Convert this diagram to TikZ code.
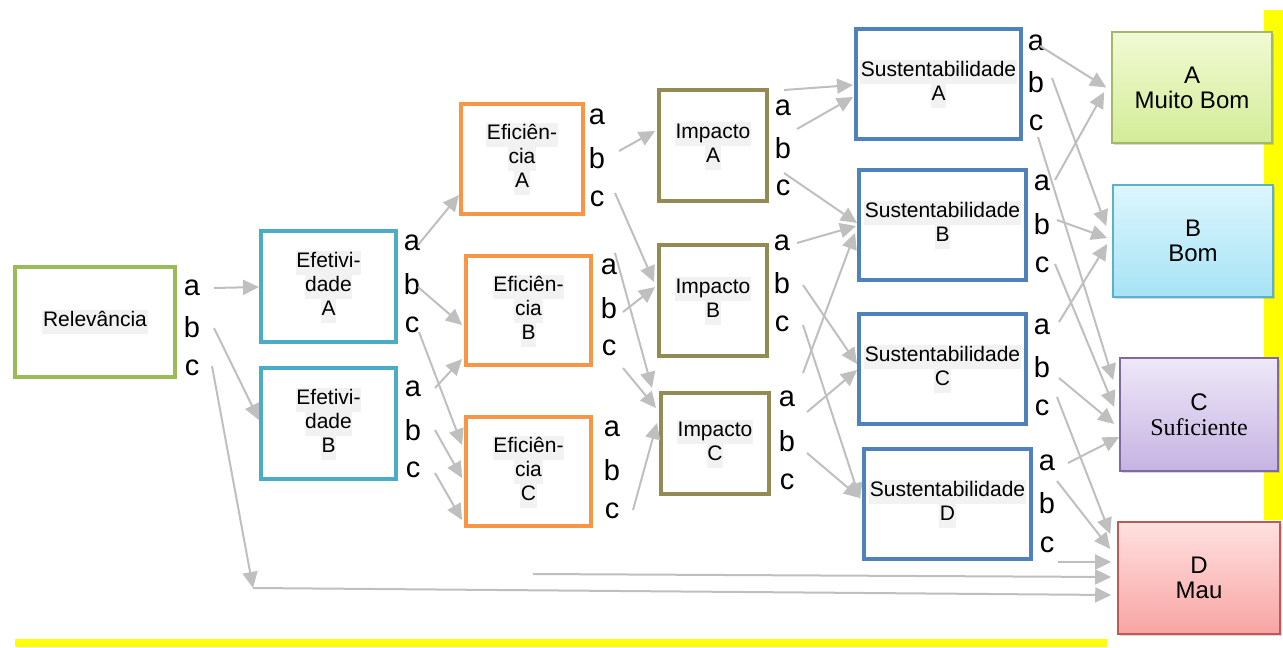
\documentclass[tikz,border=0pt]{standalone}
\usepackage{fontspec}
\setmainfont{Liberation Sans}
\newfontfamily\timesf{Liberation Serif}
\usetikzlibrary{arrows.meta,calc,shadows}
\definecolor{yel}{HTML}{FFFF00}
\definecolor{cgray}{HTML}{BFBFBF}
\definecolor{hlg}{HTML}{F2F2F2}
\definecolor{cgreen}{HTML}{9BBB59}
\definecolor{cteal}{HTML}{4BACC6}
\definecolor{corange}{HTML}{F79646}
\definecolor{colive}{HTML}{948A54}
\definecolor{cblue}{HTML}{4F81BD}
\definecolor{oAd}{HTML}{A5B86A}
\definecolor{oAt}{HTML}{F1FAD4}
\definecolor{oAb}{HTML}{D3EC98}
\definecolor{oBd}{HTML}{5BB0CC}
\definecolor{oBt}{HTML}{DDF6FD}
\definecolor{oBb}{HTML}{A6E3F5}
\definecolor{oCd}{HTML}{7E69A0}
\definecolor{oCt}{HTML}{EEE8F7}
\definecolor{oCb}{HTML}{C6B3E3}
\definecolor{oDd}{HTML}{BE5A55}
\definecolor{oDt}{HTML}{FFE0E0}
\definecolor{oDb}{HTML}{F7A5A3}
\newcommand\hl[1]{{\fboxsep=0.3pt\colorbox{hlg}{\rule[-3.3pt]{0pt}{11.4pt}#1}}}
\newcommand\abc[5]{%
  \node[lab] (#1a) at (#2,#3) {a};
  \node[lab] (#1b) at (#2,#4) {b};
  \node[lab] (#1c) at (#2,#5) {c};}
\begin{document}
\begin{tikzpicture}[x=0.5pt,y=-0.5pt,
  inbox/.style={draw=#1, line width=2pt, fill=white, inner sep=0pt, align=center,
    font=\fontsize{10.5}{12}\selectfont},
  outbox/.style n args={3}{draw=#1, top color=#2, bottom color=#3, line width=0.8pt,
    inner sep=0pt, align=center, font=\fontsize{12}{12.5}\selectfont,
    drop shadow={shadow xshift=1.2pt, shadow yshift=-1.2pt, opacity=0.3},
    minimum width=80pt, minimum height=56pt},
  lab/.style={inner sep=0pt, font=\fontsize{14.5}{16}\selectfont},
  conn/.style={draw=cgray, line width=1pt, -{Triangle[length=8pt,width=7.5pt]}}]
\useasboundingbox (0,0) rectangle (1283,647);
\fill[yel] (1264,10) rectangle (1283,520);
\fill[yel] (15,639) rectangle (1107,647);

% input boxes
\node[inbox=cgreen, minimum width=80pt, minimum height=55pt] (rel) at (95,322) {\hl{Relevância}};
\node[inbox=cteal, minimum width=67.5pt, minimum height=55.5pt] (effA) at (328.5,286.5) {\hl{Efetivi-}\\\hl{dade}\\\hl{A}};
\node[inbox=cteal, minimum width=67.5pt, minimum height=55.5pt] (effB) at (328.5,423.5) {\hl{Efetivi-}\\\hl{dade}\\\hl{B}};
\node[inbox=corange, minimum width=61pt, minimum height=55pt] (efiA) at (522,159) {\hl{Eficiên-}\\\hl{cia}\\\hl{A}};
\node[inbox=corange, minimum width=62.5pt, minimum height=54.5pt] (efiB) at (528.5,310.5) {\hl{Eficiên-}\\\hl{cia}\\\hl{B}};
\node[inbox=corange, minimum width=62.5pt, minimum height=54.5pt] (efiC) at (528.5,471.5) {\hl{Eficiên-}\\\hl{cia}\\\hl{C}};
\node[inbox=colive, minimum width=54pt, minimum height=55.5pt] (impA) at (713,145.5) {\hl{Impacto}\\\hl{A}};
\node[inbox=colive, minimum width=54pt, minimum height=55.5pt] (impB) at (713,300.5) {\hl{Impacto}\\\hl{B}};
\node[inbox=colive, minimum width=54pt, minimum height=50.5pt] (impC) at (715,443.5) {\hl{Impacto}\\\hl{C}};
\node[inbox=cblue, minimum width=82.5pt, minimum height=55pt] (susA) at (938.5,84) {\hl{Sustentabilidade}\\\hl{A}};
\node[inbox=cblue, minimum width=83.5pt, minimum height=55pt] (susB) at (942.5,225) {\hl{Sustentabilidade}\\\hl{B}};
\node[inbox=cblue, minimum width=83.5pt, minimum height=55pt] (susC) at (942.5,369) {\hl{Sustentabilidade}\\\hl{C}};
\node[inbox=cblue, minimum width=83.5pt, minimum height=55pt] (susD) at (947.5,504) {\hl{Sustentabilidade}\\\hl{D}};

% output boxes
\node[outbox={oAd}{oAt}{oAb}, minimum height=55.5pt] (oA) at (1192,87.5) {A\\Muito Bom};
\node[outbox={oBd}{oBt}{oBb}] (oB) at (1193,241) {B\\Bom};
\node[outbox={oCd}{oCt}{oCb}, minimum width=79pt, minimum height=56.5pt] (oC) at (1199,414.5) {C\\{\timesf Suficiente}};
\node[outbox={oDd}{oDt}{oDb}, minimum width=81pt] (oD) at (1199,578) {D\\Mau};

% labels
\abc{rel}{192}{288}{327}{368}
\abc{effA}{412}{243}{284}{325}
\abc{effB}{413}{389}{430}{470}
\abc{efiA}{597}{117}{158}{199}
\abc{efiB}{609}{267}{308}{348}
\abc{efiC}{612}{429}{470}{511}
\abc{impA}{783}{108}{148}{188}
\abc{impB}{782}{243}{283}{324}
\abc{impC}{787}{399}{441}{482}
\abc{susA}{1036}{43}{82}{123}
\abc{susB}{1042}{183}{224}{265}
\abc{susC}{1042}{327}{367}{408}
\abc{susD}{1047}{463}{503}{545}

% connectors
\draw[conn] ($(rela)+(22,0)$) -- ($(effA.west)+(0,0.5)$);
\draw[conn] ($(relb)+(22,1)$) -- ($(effB.west)+(0,-3.5)$);
\coordinate (corner) at (253,588);
\draw[conn] ($(relc)+(20,-2)$) -- (corner);
\draw[conn] (corner) -- ($(oD.west)+(-6,17)$);
\coordinate (free) at (533,574);
\draw[conn] (free) -- ($(oD.west)+(-6,-1)$);

\draw[conn] ($(effAa)+(6,2)$) -- ($(efiA.west)+(0,36)$);
\draw[conn] ($(effAb)+(6,3)$) -- ($(efiB.west)+(-2,14.5)$);
\draw[conn] ($(effAc)+(7,7)$) -- ($(efiC.west)+(-2,-26.5)$);
\draw[conn] ($(effBa)+(22,-1)$) -- ($(efiB.west)+(-2,48.5)$);
\draw[conn] ($(effBb)+(22,0)$) -- ($(efiC.west)+(-2,6.5)$);
\draw[conn] ($(effBc)+(22,3)$) -- ($(efiC.west)+(-2,48.5)$);

\draw[conn] ($(efiAb)+(22,-7)$) -- ($(impA.west)+(-2,-14.5)$);
\draw[conn] ($(efiAc)+(18,-6)$) -- ($(impB.west)+(-3,-18.5)$);
\draw[conn] ($(efiBa)+(6,-14)$) -- ($(impC.north west)+(-7,-3)$);
\draw[conn] ($(efiBb)+(14,4)$) -- ($(impB.west)+(-2,-13.5)$);
\draw[conn] ($(efiBc)+(14,20)$) -- ($(impC.west)+(-3,-35.5)$);
\draw[conn] ($(efiCc)+(21,-1)$) -- ($(impC.west)+(-2,-20.5)$);

\draw[conn] ($(impAa)+(1,-18)$) -- ($(susA.west)+(-1,1)$);
\draw[conn] ($(impAb)+(14,-19)$) -- ($(susA.west)+(-1,13)$);
\draw[conn] ($(impAc)+(1,-15)$) -- ($(susB.west)+(0,-2)$);
\draw[conn] ($(impBa)+(15,0)$) -- ($(susB.west)+(-1,1)$);
\draw[conn] ($(impBb)+(21,2)$) -- ($(susC.west)+(0,-5)$);
\draw[conn] ($(impBc)+(21,1)$) -- ($(susD.west)+(-2,-5)$);
\draw[conn] ($(impCa)+(16,-26)$) -- ($(susB.west)+(-2,8)$);
\draw[conn] ($(impCa)+(20,13)$) -- ($(susC.west)+(0,1)$);
\draw[conn] ($(impCb)+(20,12)$) -- ($(susD.west)+(-2,-6)$);

\draw[conn] ($(susAa)+(4,3)$) -- ($(oA.west)+(-5,0)$);
\draw[conn] ($(susAb)+(16,-4)$) -- ($(oB.west)+(-6,-15)$);
\draw[conn] ($(susAc)+(2,14)$) -- ($(oC.west)+(-6,-34.5)$);
\draw[conn] ($(susBa)+(13,-3)$) -- ($(oA.west)+(-7,4.5)$);
\draw[conn] ($(susBb)+(15,-4)$) -- ($(oB.west)+(-5,-3)$);
\draw[conn] ($(susBc)+(13,-1)$) -- ($(oC.west)+(-5,-7.5)$);
\draw[conn] ($(susCa)+(17,-5)$) -- ($(oB.west)+(-5,3)$);
\draw[conn] ($(susCb)+(17,11)$) -- ($(oC.west)+(-5,9.5)$);
\draw[conn] ($(susCc)+(15,-11)$) -- ($(oD.west)+(-7,-44)$);
\draw[conn] ($(susDa)+(21,0)$) -- ($(oC.west)+(0,22.5)$);
\draw[conn] ($(susDb)+(10,-22)$) -- ($(oD.west)+(-7,-29)$);
\draw[conn] ($(susDc)+(11,17)$) -- ($(oD.west)+(-6,-16)$);
\end{tikzpicture}
\end{document}
